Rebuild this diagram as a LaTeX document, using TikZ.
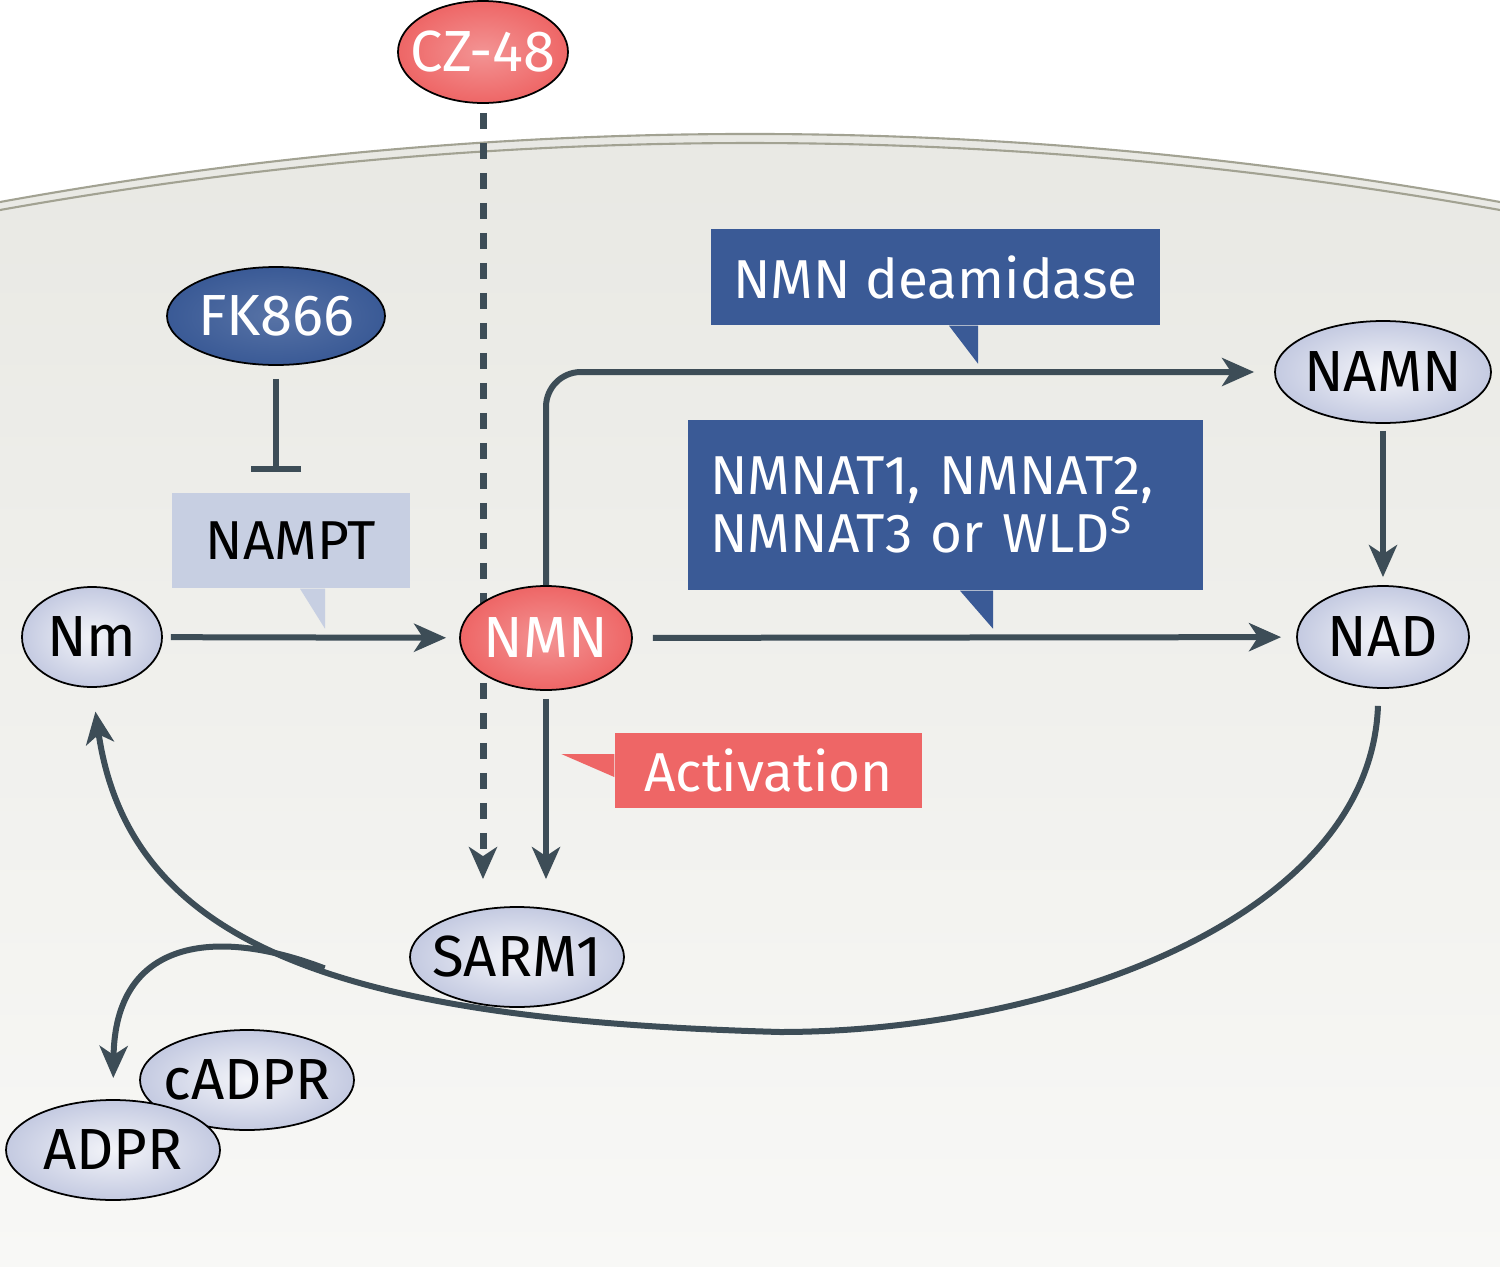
\documentclass[tikz,border=0pt]{standalone}
\usepackage{fontspec}
\setmainfont{Fira Sans}
\usepackage{tikz}
\usetikzlibrary{shapes.geometric,arrows.meta}

\definecolor{molfill}{HTML}{C4CAE1}
\definecolor{redfill}{HTML}{EE6666}
\definecolor{bluefill}{HTML}{3A5A96}
\definecolor{palebox}{HTML}{C7CFE2}
\definecolor{arrowc}{HTML}{3D4D57}
\definecolor{membc}{HTML}{A2A292}

\tikzset{
  mol/.style={ellipse, draw=black, line width=0.5pt, inner xsep=-0.25cm, inner ysep=0pt, shade, inner color=white!80!molfill, outer color=molfill, text=black, font=\fontsize{16.5}{17}\selectfont},
  hitmol/.style={mol, inner color=redfill!70!white, outer color=redfill, text=white},
  drugmol/.style={mol, inner color=bluefill!85!white, outer color=bluefill, text=white},
  darkbox/.style={rectangle, inner sep=0pt, fill=bluefill, text=white},
  arr/.style={draw=arrowc, line width=0.06cm, -{Stealth[length=0.32cm, width=0.28cm, inset=0.09cm]}},
  dasharr/.style={arr, line width=0.07cm, dash pattern=on 0.16cm off 0.14cm},
  inh/.style={draw=arrowc, line width=0.06cm, -{Bar[width=0.5cm]}}
}

\begin{document}
\begin{tikzpicture}[font=\fontsize{15.6}{16.3}\selectfont]

\useasboundingbox (0,0) rectangle (15,-12.67);

% cell and membrane
\shade[top color={rgb,255:red,232;green,232;blue,227}, bottom color={rgb,255:red,248;green,248;blue,246}]
  (0,-2.02) .. controls (5,-1.113) and (10,-1.113) .. (15,-2.02) -- (15,-12.67) -- (0,-12.67) -- cycle;
\draw[membc, line width=0.6pt] (0,-2.02) .. controls (5,-1.113) and (10,-1.113) .. (15,-2.02);
\draw[membc, line width=0.6pt] (0,-2.10) .. controls (5,-1.207) and (10,-1.207) .. (15,-2.10);

\node [hitmol, minimum width=1.70cm, minimum height=1.02cm] (CZ) at (4.83,-0.52) {CZ-48};
\node [drugmol, minimum width=2.18cm, minimum height=0.98cm] (FK) at (2.76,-3.16) {FK866};
\node [mol, minimum width=1.40cm, minimum height=1.00cm] (Nm) at (0.92,-6.37) {Nm};
\node [mol, minimum width=2.16cm, minimum height=1.02cm] (NAMN) at (13.83,-3.72) {NAMN};
\node [mol, minimum width=1.72cm, minimum height=1.02cm] (NAD) at (13.83,-6.37) {NAD};

% NAD back to Nm, with the branch to ADPR
\draw[arr, shorten >=0.24cm] ([shift={(-0.05,-0.17)}]NAD.south)
  .. controls (13.70,-9.20) and (10.50,-10.32) .. (7.80,-10.32)
  .. controls (3.50,-10.20) and (1.30,-9.50) .. (Nm.south) coordinate[pos=0.45] (br);
\draw[arr, shorten >=0.22cm] (br) .. controls (2.14,-9.26) and (1.15,-9.40) .. (1.13,-11.00);

\node [mol, minimum width=2.14cm, minimum height=1.00cm] (SARM) at (5.17,-9.57) {SARM1};
\node [mol, minimum width=2.14cm, minimum height=1.00cm] (cADPR) at (2.47,-10.80) {cADPR};
\node [mol, minimum width=2.14cm, minimum height=1.00cm] (ADPR) at (1.13,-11.50) {ADPR};

\draw[dasharr, shorten <=0.09cm, shorten >=0.27cm] (CZ.south) -- (CZ.south |- SARM.north);
\node [hitmol, minimum width=1.72cm, minimum height=1.04cm] (NMN) at (5.46,-6.38) {NMN};

% enzyme labels
\node [rectangle, fill=palebox, minimum width=2.38cm, minimum height=0.95cm] (NAMPT) at (2.91,-5.405) {NAMPT};
\fill[palebox] ([xshift=0.09cm]NAMPT.south) -- ([xshift=0.34cm]NAMPT.south) -- ++(0,-0.40) -- cycle;

\node [darkbox, minimum width=4.49cm, minimum height=0.96cm] (deam) at (9.355,-2.77) {NMN deamidase};
\fill[bluefill] ([xshift=0.135cm]deam.south) -- ([xshift=0.425cm]deam.south) -- ++(0,-0.38) -- cycle;

\node [darkbox, minimum width=5.15cm, minimum height=1.70cm, text width=4.7cm, align=left] (nmnat) at (9.455,-5.05) {NMNAT1, NMNAT2,\\NMNAT3 or WLD\textsuperscript{S}};
\fill[bluefill] ([xshift=0.145cm]nmnat.south) -- ([xshift=0.475cm]nmnat.south) -- ++(0,-0.38) -- cycle;

\node [rectangle, inner sep=0pt, fill=redfill, text=white, minimum width=3.07cm, minimum height=0.75cm] (act) at (7.685,-7.705) {Activation};
\fill[redfill] ([yshift=0.165cm]act.west) -- ++(-0.53,0) -- ([yshift=-0.065cm]act.west) -- cycle;

% reactions
\draw[arr, shorten <=0.08cm, shorten >=0.13cm] (Nm) -- (NMN);
\draw[arr, shorten <=0.2cm, shorten >=0.15cm] (NMN) -- (NAD);
\draw[arr, rounded corners=0.35cm, shorten >=0.2cm] (NMN.north) |- (NAMN);
\draw[arr, shorten <=0.07cm, shorten >=0.08cm] (NAMN) -- (NAD);
\draw[arr, shorten <=0.08cm, shorten >=0.27cm] (NMN.south) -- (NMN.south |- SARM.north);
\draw[inh, shorten <=0.13cm, shorten >=0.2cm] (FK.south) -- (FK.south |- NAMPT.north);

\end{tikzpicture}
\end{document}
